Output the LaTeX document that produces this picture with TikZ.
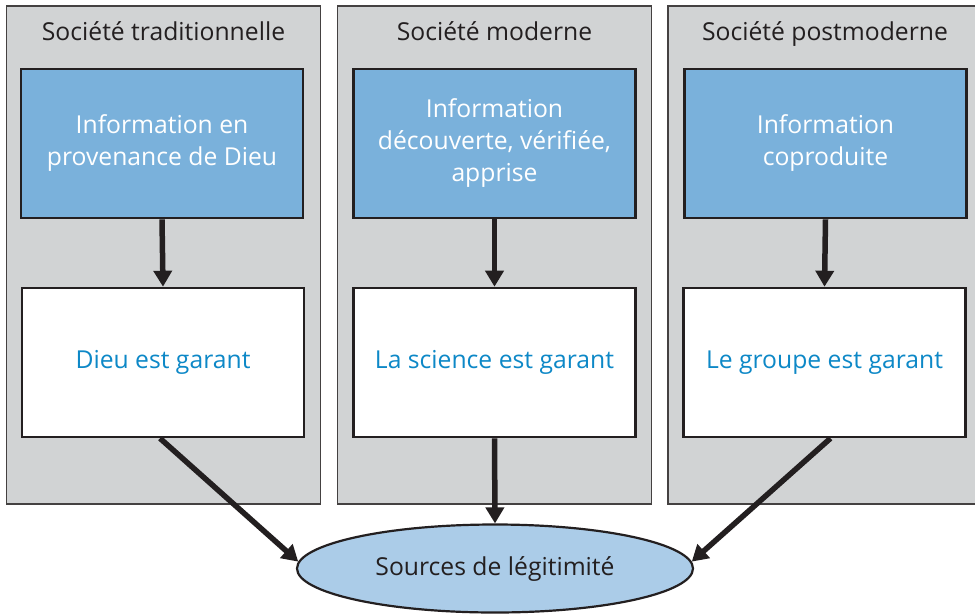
\documentclass[tikz,border=0pt]{standalone}
\usepackage{fontspec}
\setmainfont{Open Sans}
\usetikzlibrary{arrows.meta,shapes.geometric}

\definecolor{panelgray}{HTML}{D1D3D4}
\definecolor{edgedark}{HTML}{231F20}
\definecolor{infoblue}{HTML}{7AB1DB}
\definecolor{garanttext}{HTML}{0D88C7}
\definecolor{sourceblue}{HTML}{ABCCE8}

\tikzset{
  panel/.style={draw=edgedark!85, line width=1.4pt, fill=panelgray,
    minimum width=314pt, minimum height=498pt, inner sep=0pt},
  paneltitle/.style={anchor=base, font=\fontsize{24.7}{32}\selectfont, text=edgedark},
  infobox/.style={draw=edgedark, line width=2.6pt, fill=infoblue,
    minimum width=282pt, minimum height=149pt, inner sep=0pt,
    align=center, text=white, font=\fontsize{24.7}{32}\selectfont},
  garantbox/.style={draw=edgedark, line width=2.6pt, fill=white,
    minimum width=282pt, minimum height=149pt, inner sep=0pt,
    align=center, text=garanttext, font=\fontsize{24.7}{32}\selectfont},
  sourcenode/.style={ellipse, draw=edgedark, line width=2.2pt, fill=sourceblue,
    minimum width=396pt, minimum height=88pt, inner sep=0pt,
    text=edgedark, font=\fontsize{24.7}{32}\selectfont},
  flow/.style={draw=edgedark, line width=5.5pt,
    -{Triangle[length=16pt,width=18pt]}},
}

\begin{document}
\begin{tikzpicture}[x=1pt, y=-1pt]
  \useasboundingbox (0,0) rectangle (975,614);

  % three society panels
  \node[panel] (p1) at (163.5,255) {};
  \node[panel] (p2) at (494.5,255) {};
  \node[panel] (p3) at (825,255) {};

  \node[paneltitle] (t1) at (163.5,40) {Société traditionnelle};
  \node[paneltitle] (t2) at (494.5,40) {Société moderne};
  \node[paneltitle] (t3) at (825,40) {Société postmoderne};

  % where the information comes from
  \node[infobox] (i1) at (162,143.5) {Information en\\provenance de Dieu};
  \node[infobox] (i2) at (494.5,143.5) {Information\\découverte, vérifiée,\\apprise};
  \node[infobox] (i3) at (825.5,143.5) {Information\\coproduite};

  % who guarantees it
  \node[garantbox] (g1) at (163,362.5) {Dieu est garant};
  \node[garantbox] (g2) at (494.5,362.5) {La science est garant};
  \node[garantbox] (g3) at (824.5,362.5) {Le groupe est garant};

  % common outcome
  \node[sourcenode] (s) at (495,568.5) {Sources de légitimité};

  \draw[flow] (i1.south) -- (g1.north);
  \draw[flow] (i2.south) -- (g2.north);
  \draw[flow] (i3.south) -- (g3.north);

  \draw[flow] ([xshift=-3pt]g1.south) -- (s.178);
  \draw[flow] (g2.south) -- (s.north);
  \draw[flow] ([xshift=6pt]g3.south) -- (s.2);
\end{tikzpicture}
\end{document}
